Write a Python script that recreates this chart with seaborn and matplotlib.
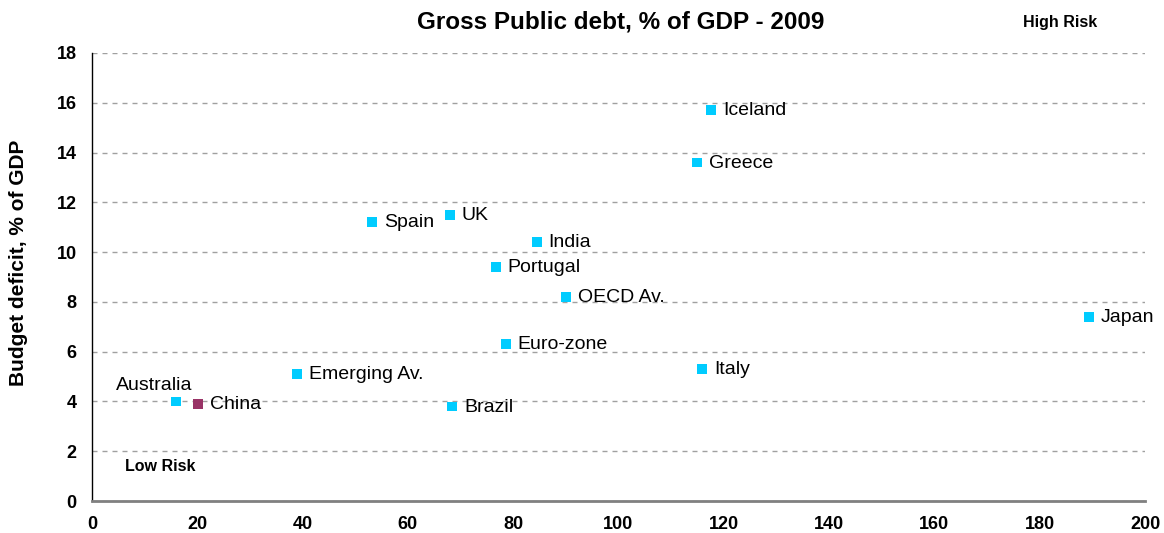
import matplotlib
matplotlib.use("Agg")
import matplotlib.pyplot as plt
import seaborn as sns
import pandas as pd

countries = ["Iceland", "Greece", "Spain", "UK", "India", "Portugal", "OECD Av.",
             "Japan", "Euro-zone", "Italy", "Emerging Av.", "Australia", "China", "Brazil"]
gross_debt = [117.6, 114.9, 53.2, 68.0, 84.5, 76.7, 90.0,
              189.4, 78.6, 115.9, 38.9, 16.0, 20.1, 68.4]
budget_deficit = [15.7, 13.6, 11.2, 11.5, 10.4, 9.4, 8.2,
                  7.4, 6.3, 5.3, 5.1, 4.0, 3.9, 3.8]
x_ticks = [0, 20, 40, 60, 80, 100, 120, 140, 160, 180, 200]
y_ticks = [0, 2, 4, 6, 8, 10, 12, 14, 16, 18]

df = pd.DataFrame({"country": countries, "debt": gross_debt, "deficit": budget_deficit})
df["group"] = ["China" if c == "China" else "Other" for c in countries]

sns.set_style("white")
plt.rcParams["font.family"] = ["Liberation Sans", "DejaVu Sans"]
plt.rcParams["text.color"] = "black"
plt.rcParams["axes.labelcolor"] = "black"

fig = plt.figure(figsize=(11.64, 5.33), dpi=100)
ax = fig.add_axes([0.079, 0.06, 0.9047, 0.8406])

sns.scatterplot(data=df, x="debt", y="deficit", hue="group",
                palette={"Other": "#00CCFF", "China": "#993366"},
                marker="s", s=50, edgecolor="none", legend=False, ax=ax, zorder=3)

for c, xv, yv in zip(countries, gross_debt, budget_deficit):
    if c == "Australia":
        ax.annotate(c, (xv, yv), xytext=(12, 11.5), textcoords="offset points",
                    fontsize=14, va="center", ha="right", color="black")
    else:
        ax.annotate(c, (xv, yv), xytext=(8.5, -0.5), textcoords="offset points",
                    fontsize=14, va="center", ha="left", color="black")

ax.set_xlim(0, 200)
ax.set_ylim(0, 18)
ax.set_xticks(x_ticks)
ax.set_yticks(y_ticks)
ax.set_xticklabels([str(t) for t in x_ticks], fontsize=13, fontweight="bold")
ax.set_yticklabels([str(t) for t in y_ticks], fontsize=13, fontweight="bold")
ax.tick_params(axis="both", direction="out", length=5, width=1, pad=6)
ax.tick_params(axis="x", colors="#808080", labelcolor="black")
ax.tick_params(axis="y", colors="black", labelcolor="black")

ax.yaxis.grid(True, color="#A0A0A0", linestyle=(0, (3.6, 3.6)), linewidth=1)
ax.xaxis.grid(False)
ax.set_axisbelow(True)

for side in ["top", "right"]:
    ax.spines[side].set_visible(False)
ax.spines["left"].set_color("black")
ax.spines["left"].set_linewidth(1)
ax.spines["bottom"].set_color("#808080")
ax.spines["bottom"].set_linewidth(2)

ax.set_xlabel("")
ax.set_ylabel("Budget deficit, % of GDP", fontsize=15, fontweight="bold", color="black")
ax.yaxis.set_label_coords(-0.061, 0.532)

fig.text(0.533, 0.958, "Gross Public debt, % of GDP - 2009", ha="center", va="center",
         fontsize=17.5, fontweight="bold", color="black")
fig.text(0.911, 0.958, "High Risk", ha="center", va="center", fontsize=11.5,
         fontweight="bold", color="black")
ax.text(6.3, 1.37, "Low Risk", ha="left", va="center", fontsize=11.5,
        fontweight="bold", color="black")

fig.savefig("out.png", dpi=100)
